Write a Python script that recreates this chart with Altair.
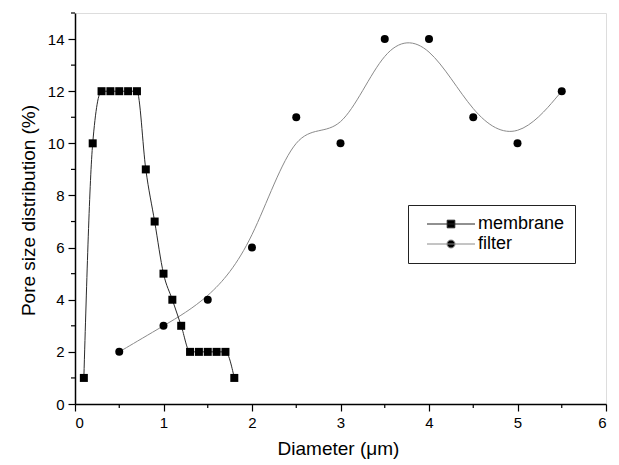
import altair as alt
import pandas as pd

# ---- data ----
mem_x = [0.1, 0.2, 0.3, 0.4, 0.5, 0.6, 0.7, 0.8, 0.9, 1.0, 1.1, 1.2, 1.3, 1.4, 1.5, 1.6, 1.7, 1.8]
mem_y = [1, 10, 12, 12, 12, 12, 12, 9, 7, 5, 4, 3, 2, 2, 2, 2, 2, 1]
fil_x = [0.5, 1.0, 1.5, 2.0, 2.5, 3.0, 3.5, 4.0, 4.5, 5.0, 5.5]
fil_y = [2, 3, 4, 6, 11, 10, 14, 14, 11, 10, 12]
x_ticks = [0, 1, 2, 3, 4, 5, 6]
y_ticks = [0, 2, 4, 6, 8, 10, 12, 14]
x_minor = [0.5, 1.5, 2.5, 3.5, 4.5, 5.5]
y_minor = [1, 3, 5, 7, 9, 11, 13, 15]
series = ["membrane", "filter"]

mem = pd.DataFrame({"d": mem_x, "p": mem_y, "s": "membrane"})
fil = pd.DataFrame({"d": fil_x, "p": fil_y, "s": "filter"})

W, H = 531, 391
FONT = "Liberation Sans"

xs = alt.Scale(domain=[0, 6], nice=False, zero=False)
ys = alt.Scale(domain=[0, 15], nice=False)

xaxis = alt.Axis(values=x_ticks, format="d", tickSize=7, labelPadding=4, labelFontSize=15,
                 title="Diameter (\u03bcm)", titleFontSize=19, titleFontWeight="normal",
                 titleX=263, titleY=44, titleBaseline="middle", grid=False,
                 domainColor="black", domainWidth=1.5, tickColor="black", tickWidth=1.2,
                 labelColor="black", titleColor="black")
yaxis = alt.Axis(values=y_ticks, format="d", tickSize=7, labelPadding=4, labelFontSize=15,
                 title="Pore size distribution (%)", titleFontSize=19, titleFontWeight="normal",
                 titleX=-47, titleY=197, titleAlign="center", titleBaseline="middle", grid=False,
                 domainColor="black", domainWidth=1.5, tickColor="black", tickWidth=1.2,
                 labelColor="black", titleColor="black")

X = alt.X("d:Q", scale=xs, axis=xaxis)
Y = alt.Y("p:Q", scale=ys, axis=yaxis)

mem_line = alt.Chart(mem).mark_line(interpolate="monotone", color="#2a2a2a", strokeWidth=1).encode(x=X, y=Y)
mem_pts = alt.Chart(mem).mark_point(shape="square", filled=True, color="black", size=64, opacity=1).encode(x=X, y=Y)
fil_line = alt.Chart(fil).mark_line(interpolate="basis", color="#8a8a8a", strokeWidth=1).encode(x=X, y=Y)
fil_pts = alt.Chart(fil).mark_point(shape="circle", filled=True, color="black", size=64, opacity=1).encode(x=X, y=Y)

# minor ticks
xmin_df = pd.DataFrame({"d": x_minor})
ymin_df = pd.DataFrame({"p": y_minor})
x_minor_ticks = alt.Chart(xmin_df).mark_rule(color="black", strokeWidth=1.2).encode(
    x=alt.X("d:Q", scale=xs), y=alt.value(H), y2=alt.value(H + 4))
y_minor_ticks = alt.Chart(ymin_df).mark_rule(color="black", strokeWidth=1.2).encode(
    y=alt.Y("p:Q", scale=ys), x=alt.value(0), x2=alt.value(-4))

# legend layer (invisible marks, only drives the legend)
sq_path = "M-6,0H6M-0.95,-0.95H0.95V0.95H-0.95Z"
ci_path = "M-6,0H6M-1,0A1,1,0,1,1,1,0A1,1,0,1,1,-1,0Z"
leg_df = pd.concat([mem, fil])
legend_layer = alt.Chart(leg_df).mark_point(filled=True, strokeWidth=1, opacity=0).encode(
    x=alt.X("d:Q", scale=xs),
    y=alt.Y("p:Q", scale=ys),
    shape=alt.Shape("s:N", scale=alt.Scale(domain=series, range=[sq_path, ci_path]),
                    legend=alt.Legend(title=None, orient="none", legendX=333, legendY=192,
                                      padding=10, symbolSize=64, symbolOffset=24, labelOffset=18,
                                      labelFontSize=18, labelFont=FONT, labelColor="black",
                                      strokeColor="#222222",
                                      symbolStrokeWidth=1, symbolOpacity=1)),
    fill=alt.Fill("s:N", scale=alt.Scale(domain=series, range=["black", "black"])),
    stroke=alt.Stroke("s:N", scale=alt.Scale(domain=series, range=["#222222", "#8a8a8a"])),
)

chart = alt.layer(
    fil_line, mem_line, x_minor_ticks, y_minor_ticks, mem_pts, fil_pts, legend_layer
).properties(
    width=W, height=H,
    autosize=alt.AutoSizeParams(type="none"),
    padding={"left": 67, "top": 5, "right": 5, "bottom": 55},
).configure_view(
    stroke="#9a9a9a", strokeDash=[2, 2], strokeWidth=1
).configure_legend(
    rowPadding=5
).configure(font=FONT, background="white")

chart.save("out.html", embed_options={"renderer": "svg", "actions": False})
